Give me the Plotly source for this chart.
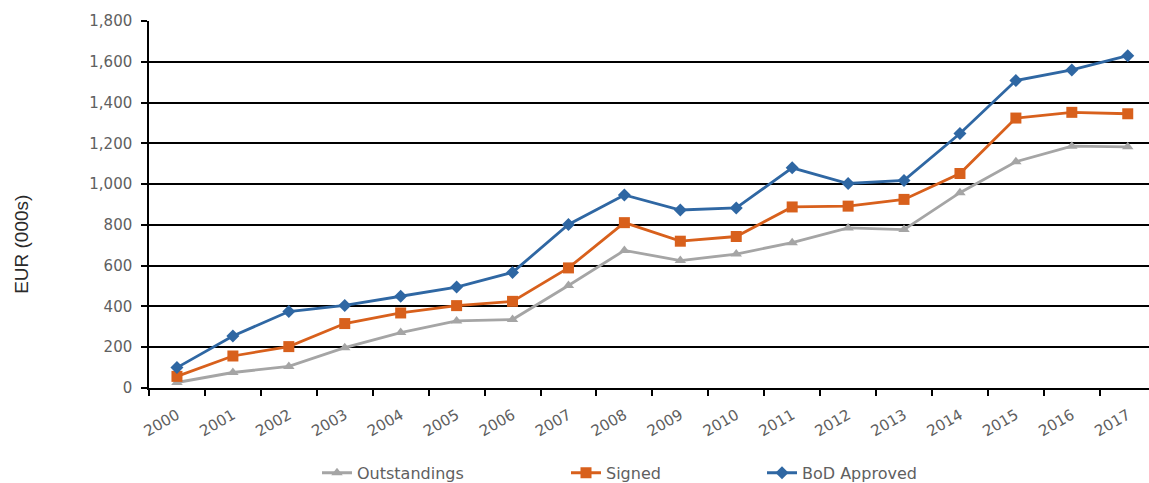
import plotly.graph_objects as go

years = [str(y) for y in range(2000, 2018)]
outstandings = [27, 76, 106, 198, 272, 329, 336, 503, 675, 625, 657, 713, 785, 777, 958, 1110, 1186, 1183]
signed = [57, 157, 203, 316, 368, 404, 425, 589, 811, 720, 743, 888, 892, 925, 1052, 1324, 1352, 1345]
bod_approved = [100, 255, 375, 405, 450, 495, 567, 802, 947, 873, 883, 1080, 1003, 1018, 1248, 1508, 1560, 1630]
y_ticks = list(range(0, 2000, 200))
y_tick_labels = [f"{v:,}" for v in y_ticks]

GRAY = "#A5A5A5"
ORANGE = "#D8601C"
BLUE = "#2F67A3"
LABEL_GRAY = "#606060"

fig = go.Figure()
fig.add_trace(go.Scatter(
    x=years, y=outstandings, name="Outstandings", mode="lines+markers",
    line=dict(color=GRAY, width=2.8),
    marker=dict(symbol="triangle-up", size=10, color=GRAY),
    legend="legend",
))
fig.add_trace(go.Scatter(
    x=years, y=signed, name="Signed", mode="lines+markers",
    line=dict(color=ORANGE, width=2.8),
    marker=dict(symbol="square", size=11, color=ORANGE),
    legend="legend2",
))
fig.add_trace(go.Scatter(
    x=years, y=bod_approved, name="BoD Approved", mode="lines+markers",
    line=dict(color=BLUE, width=2.8),
    marker=dict(symbol="diamond", size=10, color=BLUE),
    legend="legend3",
))

# legends sit below the plot, placed in container coordinates so they don't push the margins
legend_common = dict(
    orientation="h", yref="container", yanchor="middle", y=0.021,
    xanchor="left",
    font=dict(family="DejaVu Sans", size=16, color=LABEL_GRAY),
    bgcolor="rgba(0,0,0,0)", itemwidth=30,
)

fig.update_layout(
    width=1149, height=483,
    margin=dict(l=149, r=0, t=21, b=95, autoexpand=False),
    paper_bgcolor="white", plot_bgcolor="white",
    showlegend=True,
    legend=dict(x=0.168, **legend_common),
    legend2=dict(x=0.417, **legend_common),
    legend3=dict(x=0.613, **legend_common),
    xaxis=dict(
        type="category", range=[-0.5, 17.38],
        tickangle=-30, tickson="boundaries",
        ticks="outside", ticklen=6, tickcolor="black", tickwidth=1.5,
        ticklabelstandoff=11,
        showline=True, linecolor="black", linewidth=1.5,
        showgrid=False,
        tickfont=dict(family="DejaVu Sans", size=15, color=LABEL_GRAY),
    ),
    yaxis=dict(
        range=[0, 1800], tickvals=y_ticks, ticktext=y_tick_labels,
        ticks="outside", ticklen=6, tickcolor="black", tickwidth=1.5,
        ticklabelstandoff=6,
        showline=True, linecolor="black", linewidth=1.5,
        showgrid=True, gridcolor="black", gridwidth=1.5,
        zeroline=False,
        tickfont=dict(family="DejaVu Sans", size=15, color=LABEL_GRAY),
    ),
    annotations=[dict(
        text="EUR (000s)", textangle=-90, showarrow=False,
        xref="paper", yref="paper", x=-0.127, y=0.39,
        xanchor="center", yanchor="middle",
        font=dict(family="Liberation Sans", size=19, color="#2a2a2a"),
    )],
)

fig.write_html("out.html")
